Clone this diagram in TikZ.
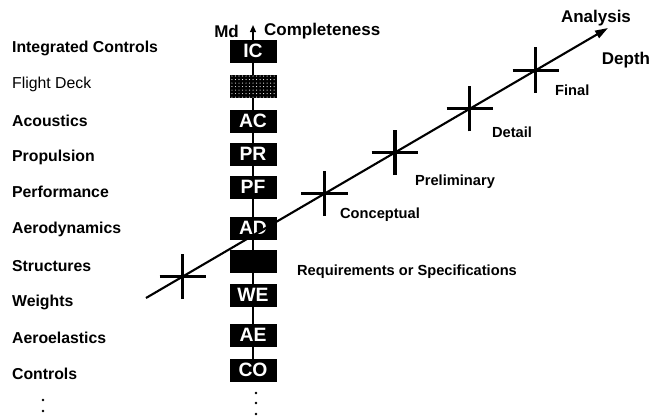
\documentclass[tikz,border=0pt]{standalone}
\usepackage{fontspec}
\setmainfont{Liberation Sans}
\usetikzlibrary{arrows.meta, positioning, calc, patterns}

\tikzset{
  box/.style={fill=black, text=white, font=\fontsize{16.5}{16}\selectfont\bfseries, minimum width=1.41cm, minimum height=0.69cm, inner sep=0pt},
  field/.style={anchor=west, font=\fontsize{13.5}{15}\selectfont\bfseries},
  stage/.style={anchor=west, font=\fontsize{12.5}{14}\selectfont\bfseries},
  headline/.style={font=\fontsize{14.5}{16}\selectfont\bfseries},
  crossline/.style={line width=2.6pt},
}

\begin{document}
\begin{tikzpicture}[x=0.03cm, y=-0.03cm]
\useasboundingbox (0,0) rectangle (665,417);

% Completeness axis
\coordinate (bot) at (253,381);
\coordinate (top) at (253,25);
\draw[line width=1.3pt, -{Triangle[length=6pt,width=5pt]}] (bot) -- (top);
\node[headline, anchor=east] (md) at (243,31) {Md};
\node[headline, anchor=west] (compl) at (260,31) {Completeness};

% Discipline boxes
\node[box] (ic) at (253,51) {IC};
\node[box, postaction={pattern=dots, pattern color=white}] (fd) at (253,86) {};
\node[box] (ac) at (253,121) {AC};
\node[box] (pr) at (253,154) {PR};
\node[box] (pf) at (253,187) {PF};
\node[box] (ad) at (253,228) {AD};
\node[box] (st) at (253,261) {};
\node[box] (we) at (253,295) {WE};
\node[box] (ae) at (253,335) {AE};
\node[box] (co) at (253,370) {CO};

% Discipline names
\node[field] (lic) at (8,48) {Integrated Controls};
\node[field, font=\fontsize{13.5}{15}\selectfont] (lfd) at (8,84) {Flight Deck};
\node[field] (lac) at (8,121) {Acoustics};
\node[field] (lpr) at (8,157) {Propulsion};
\node[field] (lpf) at (8,192) {Performance};
\node[field] (lad) at (8,229) {Aerodynamics};
\node[field] (lst) at (8,266) {Structures};
\node[field] (lwe) at (8,302) {Weights};
\node[field] (lae) at (8,338) {Aeroelastics};
\node[field] (lco) at (8,374) {Controls};

% Continuation dots
\fill (43,400) circle (1.3) (43,411) circle (1.3);
\fill (256,393) circle (1.3) (256,403) circle (1.3) (256,414) circle (1.3);

% Analysis depth axis
\coordinate (start) at (146,298);
\coordinate (tip) at (608,28);
\draw[line width=1.8pt, -{Triangle[length=11pt,width=7pt]}] (start) -- (tip);
\node[headline] (analysis) at (596,18) {Analysis};
\node[headline] (depth) at (626,60) {Depth};

% Stage marks
\coordinate (req) at ($(start)!0.08!(tip)$);
\coordinate (con) at ($(start)!0.387!(tip)$);
\coordinate (pre) at ($(start)!0.539!(tip)$);
\coordinate (det) at ($(start)!0.701!(tip)$);
\coordinate (fin) at ($(start)!0.844!(tip)$);
\foreach \c in {req,con,pre,det,fin}
  \draw[crossline] ([xshift=-0.7cm]\c) -- ([xshift=0.7cm]\c)
    ([yshift=-0.68cm]\c) -- ([yshift=0.68cm]\c);

% Stage names
\node[stage] (lfin) at (551,90) {Final};
\node[stage] (ldet) at (488,132) {Detail};
\node[stage] (lpre) at (411,182) {Preliminary};
\node[stage] (lcon) at (336,215) {Conceptual};
\node[stage] (lreq) at (293,272) {Requirements or Specifications};
\end{tikzpicture}
\end{document}
